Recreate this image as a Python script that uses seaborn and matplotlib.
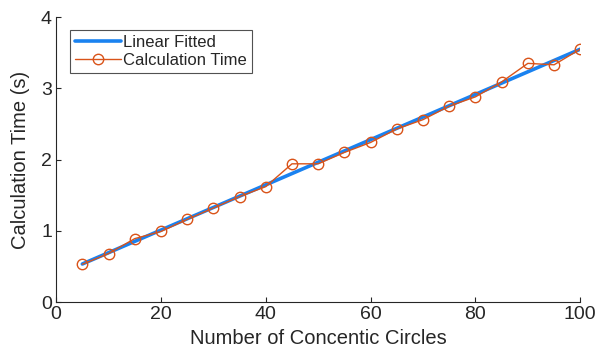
import numpy as np
import pandas as pd
import matplotlib
matplotlib.use("Agg")
import matplotlib.pyplot as plt
import seaborn as sns

circles = [5, 10, 15, 20, 25, 30, 35, 40, 45, 50, 55, 60, 65, 70, 75, 80, 85, 90, 95, 100]
calc_time = [0.53, 0.68, 0.89, 0.99, 1.16, 1.32, 1.48, 1.62, 1.94, 1.94,
             2.10, 2.24, 2.43, 2.56, 2.75, 2.88, 3.09, 3.35, 3.33, 3.55]
x_ticks = [0, 20, 40, 60, 80, 100]
y_ticks = [0, 1, 2, 3, 4]

sns.set_theme(style="ticks")
plt.rcParams['font.family'] = ['Liberation Sans', 'DejaVu Sans']

coef = np.polyfit(circles, calc_time, 1)
fit_vals = np.polyval(coef, circles)
df = pd.DataFrame({"x": circles, "t": calc_time, "fit": fit_vals})

fig, ax = plt.subplots(figsize=(5.97, 3.63), dpi=100)
fig.subplots_adjust(left=0.094, right=0.972, bottom=0.168, top=0.953)

sns.lineplot(data=df, x="x", y="fit", ax=ax, color="#1a82f0", linewidth=2.6,
             label="Linear Fitted")
sns.lineplot(data=df, x="x", y="t", ax=ax, color="#D95319", linewidth=1.0,
             marker="o", markersize=7.5, markerfacecolor="none",
             markeredgecolor="#D95319", markeredgewidth=1.0,
             label="Calculation Time")

ax.set_xlim(0, 100)
ax.set_ylim(0, 4)
ax.set_xticks(x_ticks)
ax.set_yticks(y_ticks)
ax.set_xlabel("Number of Concentic Circles", fontsize=14.5, color="#262626", labelpad=4)
ax.set_ylabel("Calculation Time (s)", fontsize=14.5, color="#262626", labelpad=8)
ax.tick_params(direction="in", length=3.5, width=0.8, labelsize=14,
               colors="#262626", pad=3)
for s in ["top", "right"]:
    ax.spines[s].set_visible(False)
for s in ["left", "bottom"]:
    ax.spines[s].set_color("#262626")
    ax.spines[s].set_linewidth(0.8)

leg = ax.legend(loc="upper left", bbox_to_anchor=(0.027, 0.955), fontsize=12,
                frameon=True, fancybox=False, edgecolor="#262626",
                handlelength=2.75, borderpad=0.3, labelspacing=0.2,
                handletextpad=0.1, borderaxespad=0.0)
leg.get_frame().set_linewidth(0.8)

fig.savefig("out.png", dpi=100)
